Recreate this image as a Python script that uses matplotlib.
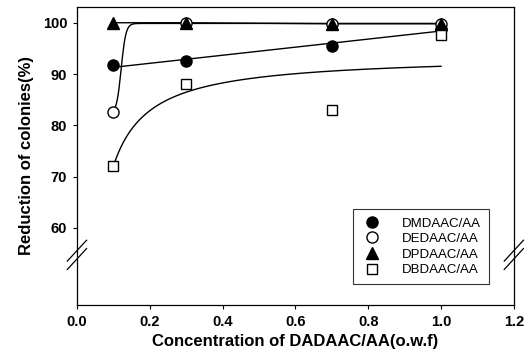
import numpy as np
import matplotlib
matplotlib.use("Agg")
import matplotlib.pyplot as plt
from matplotlib.lines import Line2D

plt.rcParams['font.family'] = ['Liberation Sans', 'DejaVu Sans']

conc = [0.1, 0.3, 0.7, 1.0]
dmdaac = [91.7, 92.6, 95.5, 98.8]
dedaac = [82.7, 100.0, 99.8, 99.8]
dpdaac = [100.0, 100.0, 99.8, 99.8]
dbdaac = [72.0, 88.0, 83.0, 97.6]
labels = ["DMDAAC/AA", "DEDAAC/AA", "DPDAAC/AA", "DBDAAC/AA"]
yticks = [60, 70, 80, 90, 100]
xticks = [0.0, 0.2, 0.4, 0.6, 0.8, 1.0, 1.2]

fig = plt.figure(figsize=(5.27, 3.6), dpi=100)
ax = fig.add_axes([0.146, 0.153, 0.829, 0.828])
ax.set_xlim(0, 1.2)
ax.set_ylim(45, 103.1)

x = np.array(conc)
xs = np.linspace(0.1, 1.0, 400)

# DMDAAC: linear fit
p = np.polyfit(x, dmdaac, 1)
ax.plot(xs, np.polyval(p, xs), color='black', lw=1.0, zorder=2)
# DPDAAC: connect points
ax.plot(x, dpdaac, color='black', lw=1.0, zorder=2)
# DEDAAC: sigmoidal curve
lo, hi, k, x0 = 82.2, np.mean(dedaac[1:]), 155.0, 0.1215
ax.plot(xs, lo + (hi - lo) / (1 + np.exp(-k * (xs - x0))), color='black', lw=1.0, zorder=2)
# DBDAAC: fit y = a + c/x
c, a = np.polyfit(1 / x, dbdaac, 1)
ax.plot(xs, a + c / xs, color='black', lw=1.0, zorder=2)

ms = 8
ax.plot(x, dmdaac, 'o', color='black', ms=ms, zorder=3, label=labels[0])
ax.plot(x, dedaac, 'o', mfc='white', mec='black', mew=1.0, ms=ms, zorder=3, label=labels[1])
ax.plot(x, dpdaac, '^', color='black', ms=ms, zorder=4, label=labels[2])
ax.plot(x, dbdaac, 's', mfc='white', mec='black', mew=1.0, ms=7.5, zorder=5, label=labels[3])

ax.set_xticks(xticks)
ax.set_xticklabels([f"{t:.1f}" for t in xticks], fontweight='bold', fontsize=10.5)
ax.set_yticks(yticks)
ax.set_yticklabels([str(t) for t in yticks], fontweight='bold', fontsize=10.5)
ax.tick_params(direction='out', length=3, width=0.8, pad=4)
ax.set_xlabel("Concentration of DADAAC/AA(o.w.f)", fontweight='bold', fontsize=12, labelpad=4)
ax.set_ylabel("Reduction of colonies(%)", fontweight='bold', fontsize=12, labelpad=6)
for s in ax.spines.values():
    s.set_linewidth(0.9)

# axis break marks
for xa in (0.0, 1.0):
    for dy in (-0.014, 0.014):
        yc = 0.168 + dy
        ax.add_line(Line2D([xa - 0.022, xa + 0.022], [yc - 0.035, yc + 0.035],
                           transform=ax.transAxes, color='black', lw=0.9, clip_on=False))

leg = ax.legend(loc='lower right', bbox_to_anchor=(0.943, 0.07), fontsize=9.5,
                frameon=True, fancybox=False, edgecolor='black', handletextpad=1.5,
                labelspacing=0.25, borderpad=0.6, handlelength=1.6, borderaxespad=0)
leg.get_frame().set_linewidth(0.8)

fig.savefig("out.png", dpi=100)
